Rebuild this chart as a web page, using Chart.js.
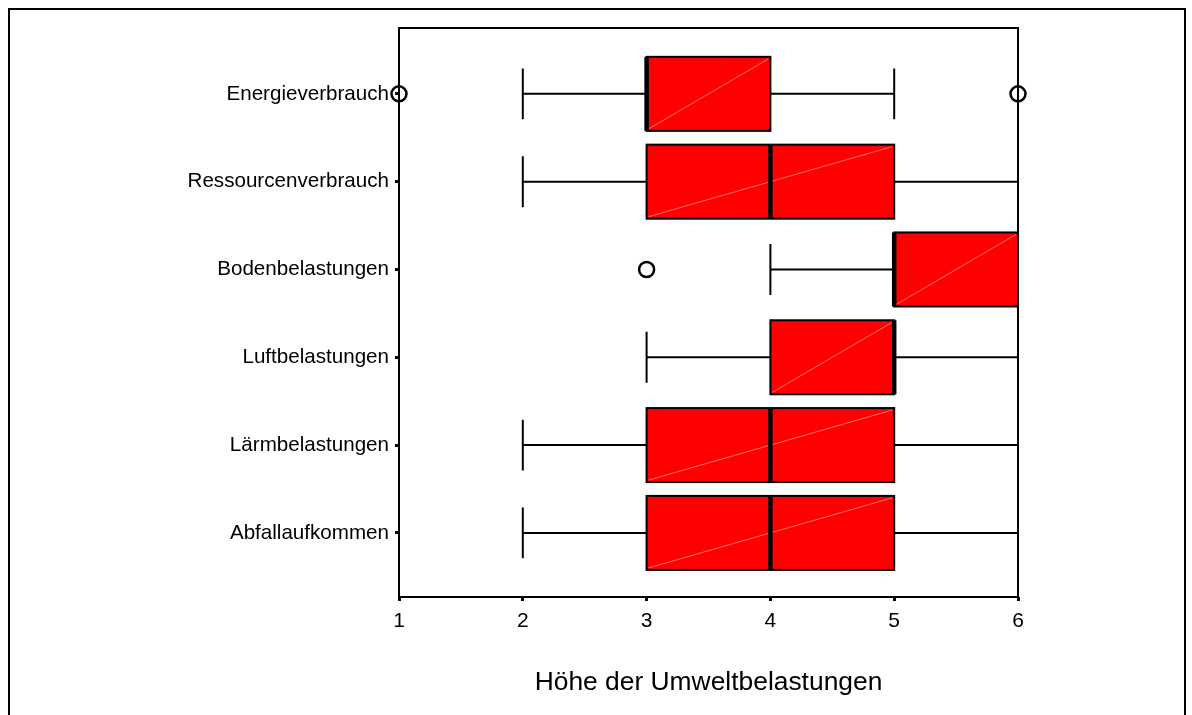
<!DOCTYPE html>
<html>
<head>
<meta charset="utf-8">
<script src="https://cdn.jsdelivr.net/npm/chart.js@4/dist/chart.umd.min.js"></script>
<style>
  html, body { margin: 0; padding: 0; background: #fff; }
  #wrap { position: relative; width: 1192px; height: 715px; }
</style>
</head>
<body>
<div id="wrap"><canvas id="c" width="1192" height="715"></canvas></div>
<script>
// Kategorien (von oben nach unten)
const categories = ['Energieverbrauch', 'Ressourcenverbrauch', 'Bodenbelastungen',
                    'Luftbelastungen', 'Lärmbelastungen', 'Abfallaufkommen'];
// Fünf-Punkte-Zusammenfassung je Kategorie
const whiskerLow  = [2, 2, 4, 3, 2, 2];
const quartil1    = [3, 3, 5, 4, 3, 3];
const median      = [3, 4, 5, 5, 4, 4];
const quartil3    = [4, 5, 6, 5, 5, 5];
const whiskerHigh = [5, 6, 6, 6, 6, 6];
// Ausreißer: [Kategorie-Index, Wert]
const outliers = [[0, 1], [0, 6], [2, 3]];
// Achsenbeschriftungen
const xTicks = [1, 2, 3, 4, 5, 6];
const xTitle = 'Höhe der Umweltbelastungen';

const FONT = 'Liberation Sans, Arial, Helvetica, sans-serif';

const boxData = categories.map((_, i) => ({ y: i, x: [quartil1[i], quartil3[i]] }));
const outlierData = outliers.map(([i, v]) => ({ x: v, y: i }));

// Whisker, Mediane, Diagonalen und Rahmen
const boxplotParts = {
  id: 'boxplotParts',
  beforeDraw(chart) {
    const ctx = chart.ctx;
    ctx.save();
    ctx.strokeStyle = '#000';
    ctx.lineWidth = 2;
    ctx.beginPath();
    ctx.moveTo(9, chart.height);
    ctx.lineTo(9, 9);
    ctx.lineTo(1185, 9);
    ctx.lineTo(1185, chart.height);
    ctx.stroke();
    ctx.restore();
  },
  beforeDatasetsDraw(chart) {
    const { ctx, scales: { x, y } } = chart;
    ctx.save();
    ctx.strokeStyle = '#000';
    ctx.lineWidth = 2;
    categories.forEach((_, i) => {
      const yc = y.getPixelForValue(i);
      const capTop = y.getPixelForValue(i - 0.29);
      const capBot = y.getPixelForValue(i + 0.29);
      const pLo = x.getPixelForValue(whiskerLow[i]);
      const pQ1 = x.getPixelForValue(quartil1[i]);
      const pQ3 = x.getPixelForValue(quartil3[i]);
      const pHi = x.getPixelForValue(whiskerHigh[i]);
      ctx.beginPath();
      ctx.moveTo(pLo, yc); ctx.lineTo(pQ1, yc);
      ctx.moveTo(pQ3, yc); ctx.lineTo(pHi, yc);
      ctx.moveTo(pLo, capTop); ctx.lineTo(pLo, capBot);
      ctx.moveTo(pHi, capTop); ctx.lineTo(pHi, capBot);
      ctx.stroke();
    });
    ctx.restore();
  },
  afterDatasetsDraw(chart) {
    const { ctx, scales: { x }, chartArea: a } = chart;
    const meta = chart.getDatasetMeta(0);
    ctx.save();
    meta.data.forEach((bar, i) => {
      const top = bar.y - bar.height / 2;
      const bottom = bar.y + bar.height / 2;
      const left = Math.min(bar.base, bar.x);
      const right = Math.max(bar.base, bar.x);
      // helle Diagonale in der Box
      ctx.strokeStyle = 'rgba(255,150,150,0.75)';
      ctx.lineWidth = 1;
      ctx.beginPath();
      ctx.moveTo(left + 2, bottom - 2);
      ctx.lineTo(right - 2, top + 2);
      ctx.stroke();
      // Kastenumriss
      ctx.strokeStyle = '#000';
      ctx.lineWidth = 2;
      ctx.strokeRect(left, top, right - left, bottom - top);
      // Median
      const pm = x.getPixelForValue(median[i]);
      ctx.lineWidth = 4.5;
      ctx.beginPath();
      ctx.moveTo(pm, top);
      ctx.lineTo(pm, bottom);
      ctx.stroke();
    });
    // Rahmen des Diagrammbereichs
    ctx.strokeStyle = '#000';
    ctx.lineWidth = 2;
    ctx.strokeRect(a.left, a.top, a.right - a.left, a.bottom - a.top);
    ctx.restore();
  }
};

new Chart(document.getElementById('c'), {
  type: 'bar',
  data: {
    datasets: [
      {
        type: 'bar',
        data: boxData,
        backgroundColor: 'rgb(255,0,0)',
        borderColor: '#000',
        borderWidth: 0,
        borderSkipped: false,
        barPercentage: 0.843,
        categoryPercentage: 1,
        grouped: false,
        order: 2
      },
      {
        type: 'scatter',
        data: outlierData,
        pointRadius: 7.5,
        pointBorderWidth: 2.5,
        borderColor: '#000',
        backgroundColor: 'rgba(0,0,0,0)',
        pointBackgroundColor: 'rgba(0,0,0,0)',
        clip: false,
        order: 1
      }
    ]
  },
  options: {
    indexAxis: 'y',
    responsive: false,
    animation: false,
    events: [],
    layout: { padding: { left: 0, top: 28, right: 174, bottom: 0 } },
    plugins: { legend: { display: false }, tooltip: { enabled: false } },
    scales: {
      x: {
        type: 'linear',
        position: 'bottom',
        min: xTicks[0],
        max: xTicks[xTicks.length - 1],
        offset: false,
        beginAtZero: false,
        afterBuildTicks(scale) { scale.ticks = xTicks.map(v => ({ value: v })); },
        afterFit(scale) { scale.height = 118; },
        border: { display: false },
        grid: { offset: false, drawOnChartArea: false, drawTicks: true, tickLength: 4, tickWidth: 3, color: '#000' },
        ticks: { color: '#000', padding: 8, font: { family: FONT, size: 21 }, maxRotation: 0 },
        title: {
          display: true,
          text: xTitle,
          color: '#000',
          font: { family: FONT, size: 26.4 },
          padding: { top: 0, bottom: 16 }
        }
      },
      y: {
        type: 'linear',
        position: 'left',
        reverse: true,
        min: -0.75,
        max: 5.73,
        bounds: 'data',
        offset: false,
        afterBuildTicks(scale) { scale.ticks = categories.map((_, i) => ({ value: i })); },
        afterFit(scale) { scale.width = 399; },
        border: { display: false },
        grid: { offset: false, drawOnChartArea: false, drawTicks: true, tickLength: 4, tickWidth: 3, color: '#000' },
        ticks: {
          color: '#000',
          padding: 6,
          font: { family: FONT, size: 20.6 },
          callback: (v) => categories[v]
        }
      }
    }
  },
  plugins: [boxplotParts]
});
</script>
</body>
</html>
